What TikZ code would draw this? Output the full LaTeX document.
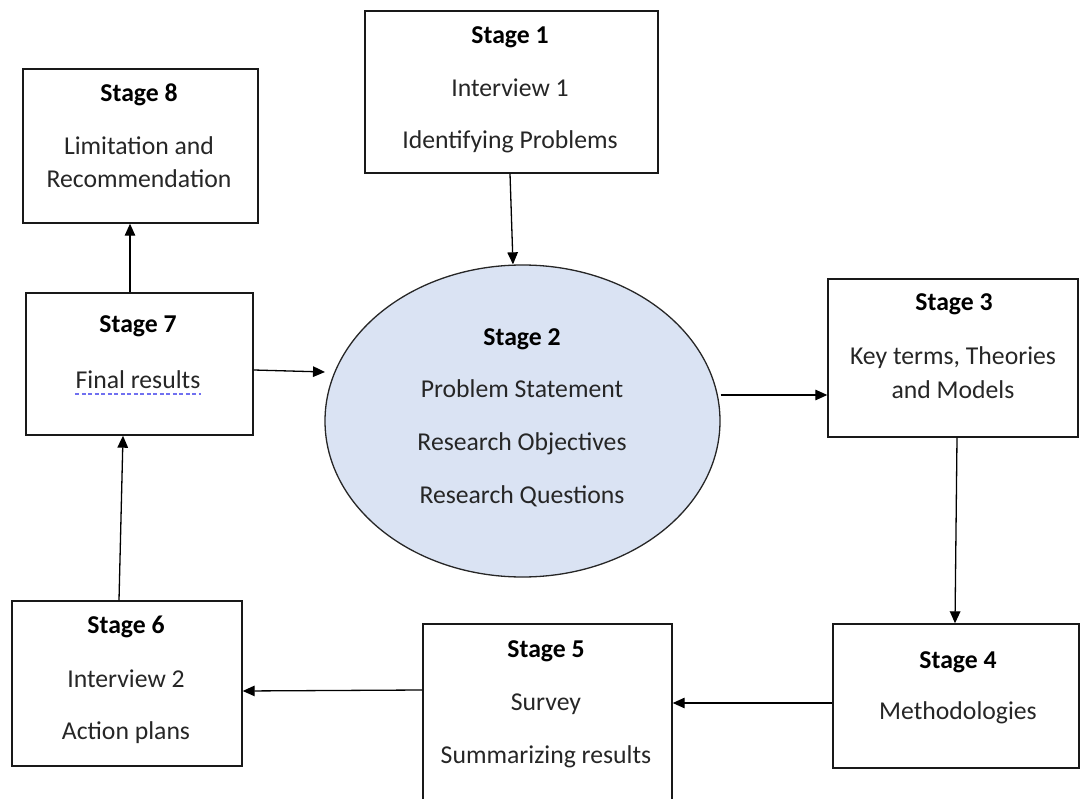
\documentclass[tikz,border=0pt]{standalone}
\usepackage{fontspec}
\setmainfont{Carlito}
\usetikzlibrary{arrows.meta,shapes.geometric}
\definecolor{ovalfill}{RGB}{218,227,243}
\definecolor{spellmark}{RGB}{112,112,240}
\begin{document}
\begin{tikzpicture}[x=1pt,y=-1pt,
  stagebox/.style={draw=black!90, line width=1.4pt, fill=white, inner sep=0pt},
  oval/.style={ellipse, draw=black!85, line width=1.3pt, fill=ovalfill, inner sep=0pt},
  txt/.style={anchor=base, inner sep=0pt, font=\fontsize{25.7}{30}\selectfont, text=black!85},
  head/.style={txt, font=\fontsize{25.7}{30}\selectfont\bfseries, text=black},
  arr/.style={-{Triangle[length=12pt,width=10.5pt]}, line width=1.3pt, draw=black}
]
\useasboundingbox (0,0) rectangle (1081,799);
\clip (0,0) rectangle (1081,799);

% stage boxes and the central oval
\node[stagebox, minimum width=293pt, minimum height=162pt] (s1) at (511.5,92) {};
\node[oval, minimum width=395pt, minimum height=312pt] (s2) at (522.5,421) {};
\node[stagebox, minimum width=250pt, minimum height=158pt] (s3) at (953,358) {};
\node[stagebox, minimum width=246pt, minimum height=144pt] (s4) at (956,696) {};
\node[stagebox, minimum width=249pt, minimum height=206pt] (s5) at (547.5,727) {};
\node[stagebox, minimum width=230pt, minimum height=165pt] (s6) at (127,683.5) {};
\node[stagebox, minimum width=227pt, minimum height=142pt] (s7) at (139.5,364) {};
\node[stagebox, minimum width=235pt, minimum height=154pt] (s8) at (140.5,146) {};

% texts
\node[head] (s1a) at (510,44) {Stage 1};
\node[txt]  (s1b) at (510,97) {Interview 1};
\node[txt]  (s1c) at (510,149) {Identifying Problems};

\node[head] (s2a) at (522,345) {Stage 2};
\node[txt]  (s2b) at (522,397) {Problem Statement};
\node[txt]  (s2c) at (522,450) {Research Objectives};
\node[txt]  (s2d) at (522,503) {Research Questions};

\node[head] (s3a) at (954,311) {Stage 3};
\node[txt]  (s3b) at (953,364) {Key terms, Theories};
\node[txt]  (s3c) at (953,398) {and Models};

\node[head] (s4a) at (958,668) {Stage 4};
\node[txt]  (s4b) at (958,719) {Methodologies};

\node[head] (s5a) at (546,657) {Stage 5};
\node[txt]  (s5b) at (546,710) {Survey};
\node[txt]  (s5c) at (546,763) {Summarizing results};

\node[head] (s6a) at (126,633) {Stage 6};
\node[txt]  (s6b) at (126,687) {Interview 2};
\node[txt]  (s6c) at (126,739) {Action plans};

\node[head] (s7a) at (138,333) {Stage 7};
\node[txt]  (s7b) at (138,388) {Final results};
\draw[spellmark, line width=1.6pt, dash pattern=on 4pt off 2.5pt]
  ([yshift=-6pt]s7b.base west) -- ([yshift=-6pt]s7b.base east);

\node[head] (s8a) at (139,102) {Stage 8};
\node[txt]  (s8b) at (139,155) {Limitation and};
\node[txt]  (s8c) at (139,188) {Recommendation};

% connectors
\draw[arr] ([xshift=-1.5pt]s1.south) -- ([xshift=-9.5pt]s2.north);
\draw[arr] ([yshift=26pt]s2.east) -- ([yshift=-37pt]s3.west);
\draw[arr] ([xshift=4pt]s3.south) -- ([xshift=-1pt]s4.north);
\draw[arr] ([yshift=-7pt]s4.west) -- ([yshift=24pt]s5.east);
\draw[arr] ([yshift=37pt]s5.west) -- ([yshift=-7.5pt]s6.east);
\draw[arr] ([xshift=-8pt]s6.north) -- ([xshift=-16.5pt]s7.south);
\draw[arr] ([yshift=-6pt]s7.east) -- ([xshift=-197.5pt,yshift=49pt]s2.center);
\draw[arr] ([xshift=-9.5pt]s7.north) -- ([xshift=-10.5pt]s8.south);
\end{tikzpicture}
\end{document}
